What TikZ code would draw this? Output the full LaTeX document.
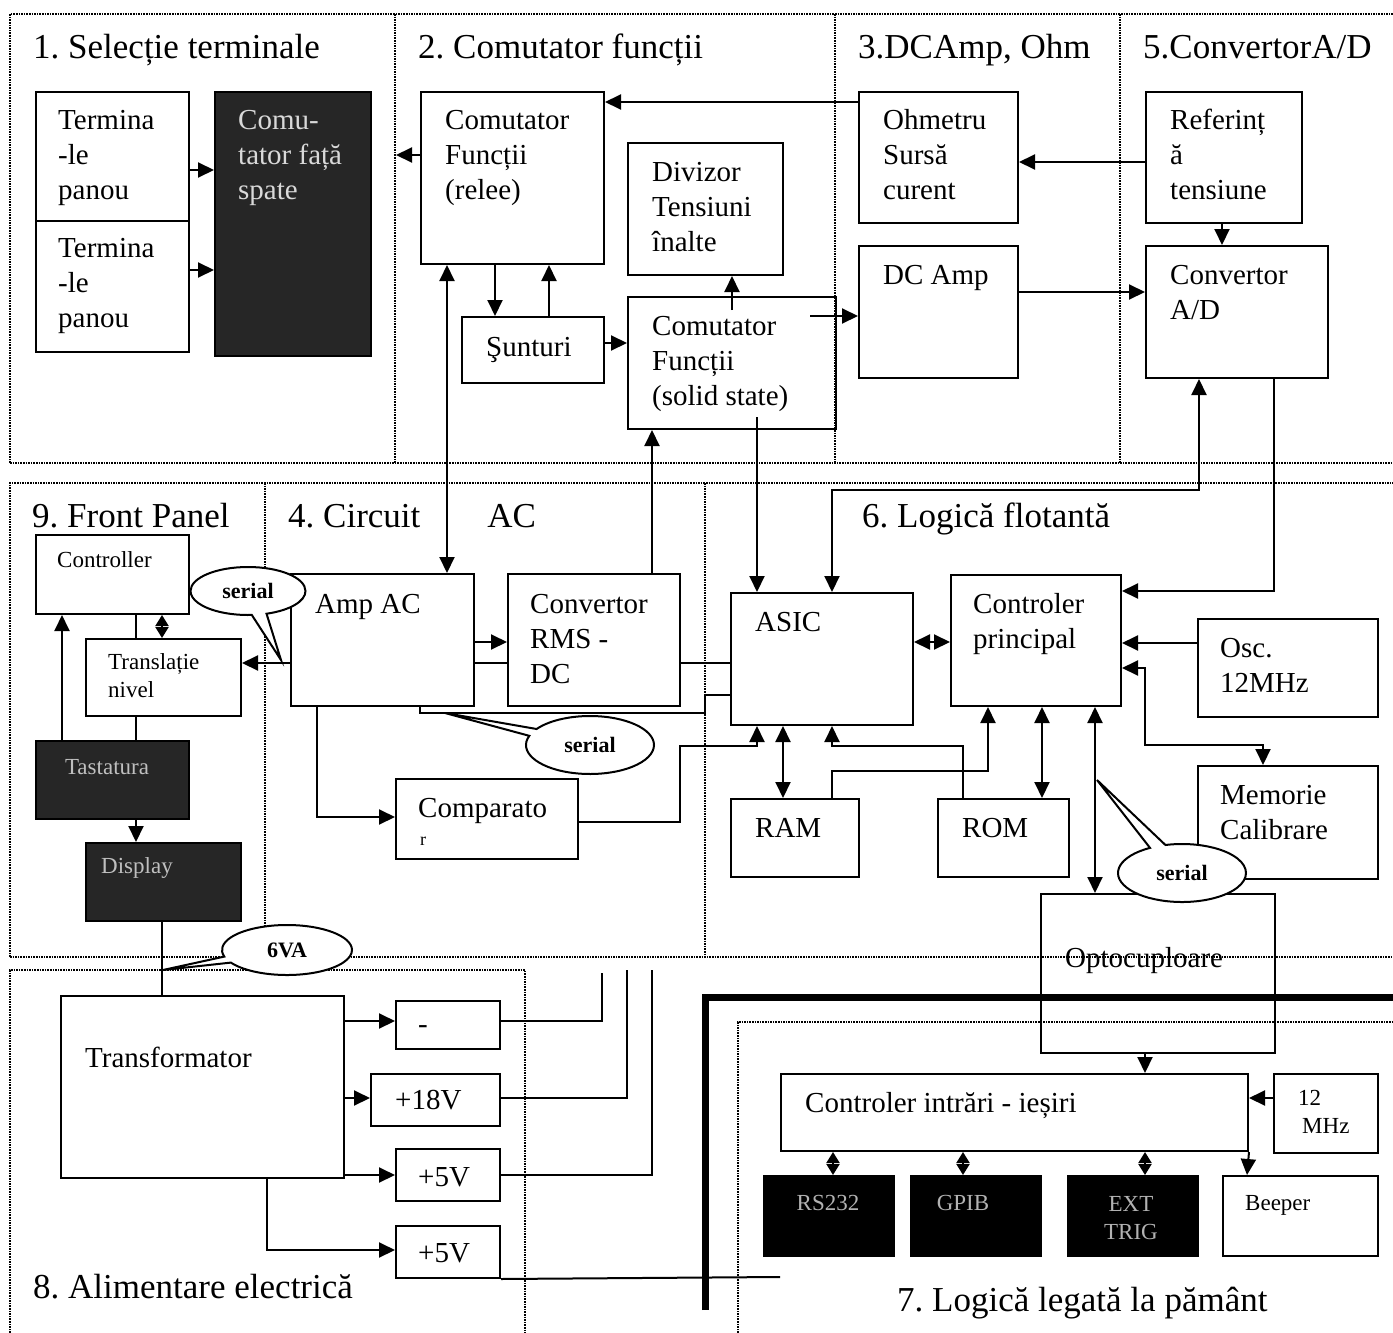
\documentclass[tikz,border=0pt]{standalone}
\usepackage{fontspec}
\setmainfont{Liberation Serif}
\usetikzlibrary{arrows.meta,shapes.callouts,calc}
\newcommand\Bx[6][box]{\node[#1, minimum width={#5-#3}, minimum height={#6-#4}] (#2) at (#3,#4) {};}
\frenchspacing
\begin{document}
\frenchspacing
\begin{tikzpicture}[x=1pt,y=-1pt,
  box/.style={draw, line width=2pt, inner sep=0pt, anchor=north west},
  dbox/.style={box, fill=black!85},
  kbox/.style={box, fill=black},
  tx/.style={anchor=north west, inner sep=0pt, align=left, font=\fontsize{29}{35}\selectfont},
  ts/.style={anchor=north west, inner sep=0pt, align=left, font=\fontsize{23}{28}\selectfont},
  th/.style={anchor=north west, inner sep=0pt, font=\fontsize{35}{42}\selectfont},
  region/.style={densely dotted, line width=1.6pt},
  ln/.style={line width=2pt},
  arr/.style={ln, -{Triangle[length=16pt,width=15pt]}},
  darr/.style={ln, {Triangle[length=16pt,width=15pt]}-{Triangle[length=16pt,width=15pt]}},
  sarr/.style={ln, {Triangle[length=11pt,width=13pt]}-{Triangle[length=11pt,width=13pt]}},
  call/.style={ellipse callout, draw, fill=white, line width=2pt, inner sep=0pt, font=\fontsize{22}{26}\selectfont\bfseries},
]
\useasboundingbox (0,0) rectangle (1393,1333);
\fill[white] (0,0) rectangle (1393,1333);
% ---------- regions
\draw[region] (10,463) -- (10,14) -- (1393,14);
\draw[region] (10,463) -- (1393,463);
\draw[region] (395,14) -- (395,463);
\draw[region] (835,14) -- (835,463);
\draw[region] (1120,14) -- (1120,463);
\draw[region] (10,957) -- (10,483) -- (1393,483);
\draw[region] (10,957) -- (1393,957);
\draw[region] (265,483) -- (265,957);
\draw[region] (705,483) -- (705,957);
\draw[region] (10,1333) -- (10,970) -- (525,970) -- (525,1333);
\draw[region] (738,1333) -- (738,1022) -- (1393,1022);
\draw[line width=7pt] (705,1310) -- (705,997) -- (1393,997);
% ---------- boxes
\Bx{term1}{35}{91}{188}{220}
\Bx{term2}{35}{220}{188}{351}
\Bx[dbox]{comu}{214}{91}{370}{355}
\Bx{relee}{420}{91}{603}{263}
\Bx{div}{627}{142}{782}{274}
\Bx{sunt}{461}{316}{603}{382}
\Bx{solid}{627}{296}{835}{428}
\Bx{ohm}{858}{91}{1017}{222}
\Bx{dcamp}{858}{245}{1017}{377}
\Bx{ref}{1145}{91}{1301}{222}
\Bx{adc}{1145}{245}{1327}{377}
\Bx{ctrlr}{35}{534}{188}{613}
\Bx{transl}{85}{638}{240}{715}
\Bx[dbox]{tast}{35}{740}{188}{818}
\Bx[dbox]{disp}{85}{842}{240}{920}
\Bx{ampac}{290}{573}{473}{705}
\Bx{rms}{507}{573}{679}{705}
\Bx{comp}{395}{778}{577}{858}
\Bx{asic}{730}{592}{912}{724}
\Bx{ctrl}{950}{574}{1120}{705}
\Bx{osc}{1197}{618}{1377}{716}
\Bx{mem}{1197}{765}{1377}{878}
\Bx{ram}{730}{798}{858}{876}
\Bx{rom}{937}{798}{1068}{876}
\Bx{opto}{1040}{893}{1274}{1052}
\Bx{trans}{60}{995}{343}{1177}
\Bx{minus}{395}{1000}{499}{1048}
\Bx{p18}{370}{1073}{499}{1125}
\Bx{p5a}{395}{1148}{499}{1200}
\Bx{p5b}{395}{1225}{499}{1277}
\Bx{io}{780}{1073}{1247}{1150}
\Bx{mhz}{1273}{1073}{1377}{1152}
\Bx[kbox]{rs}{763}{1175}{893}{1255}
\Bx[kbox]{gpib}{910}{1175}{1040}{1255}
\Bx[kbox]{ext}{1067}{1175}{1197}{1255}
\Bx{beep}{1222}{1175}{1377}{1255}
% ---------- texts
\node[tx] (t_term1) at (58,105) {\strut Termina\\-le\\panou};
\node[tx] (t_term2) at (58,233) {\strut Termina\\-le\\panou};
\node[tx, text=white!85!black] (t_comu) at (238,105) {\strut Comu-\\tator față\\spate};
\node[tx] (t_relee) at (445,105) {\strut Comutator\\Funcții\\(relee)};
\node[tx] (t_div) at (652,157) {\strut Divizor\\Tensiuni\\înalte};
\node[tx] (t_sunt) at (486,332) {\strut Şunturi};
\node[tx] (t_solid) at (652,311) {\strut Comutator\\Funcții\\(solid state)};
\node[tx] (t_ohm) at (883,105) {\strut Ohmetru\\Sursă\\curent};
\node[tx] (t_dc) at (883,260) {\strut DC Amp};
\node[tx] (t_ref) at (1170,105) {\strut Referinț\\ă\\tensiune};
\node[tx] (t_adc) at (1170,260) {\strut Convertor\\A/D};
\node[ts] (t_ctrlr) at (57,548) {\strut Controller};
\node[ts] (t_transl) at (108,650) {\strut Translație\\nivel};
\node[ts, anchor=center, text=white!75!black] (t_tast) at (107,767) {Tastatura};
\node[ts, anchor=center, text=white!75!black] (t_disp) at (137,868) {Display};
\node[tx] (t_amp) at (315,589) {\strut Amp AC};
\node[tx] (t_rms) at (530,589) {\strut Convertor\\RMS -\\DC};
\node[tx] (t_comp) at (418,793) {\strut Comparato};
\node[font=\fontsize{18}{20}\selectfont, inner sep=0pt] (t_r) at (423,841) {r};
\node[tx] (t_asic) at (755,607) {\strut ASIC};
\node[tx] (t_ctrl) at (973,589) {\strut Controler\\principal};
\node[tx] (t_osc) at (1220,633) {\strut Osc.\\12MHz};
\node[tx] (t_mem) at (1220,780) {\strut Memorie\\Calibrare};
\node[tx] (t_ram) at (755,813) {\strut RAM};
\node[tx] (t_rom) at (962,813) {\strut ROM};
\node[tx] (t_opto) at (1065,943) {\strut Optocuploare};
\node[tx] (t_trans) at (85,1043) {\strut Transformator};
\node[tx] (t_minus) at (418,1009) {\strut -};
\node[tx] (t_p18) at (395,1085) {\strut +18V};
\node[tx] (t_p5a) at (418,1162) {\strut +5V};
\node[tx] (t_p5b) at (418,1238) {\strut +5V};
\node[tx] (t_io) at (805,1088) {\strut Controler intrări - ieșiri};
\node[ts] (t_mhz) at (1298,1086) {\strut 12\\\hspace{4pt}MHz};
\node[ts, anchor=center, text=white!70!black] (t_rs) at (828,1203) {RS232};
\node[ts, anchor=center, text=white!70!black] (t_gpib) at (963,1203) {GPIB};
\node[ts, anchor=center, align=center, text=white!70!black] (t_ext) at (1131,1218) {EXT\\TRIG};
\node[ts] (t_beep) at (1245,1191) {\strut Beeper};
% ---------- headings
\node[th] (h1) at (33,29) {\strut 1. Selecție terminale};
\node[th] (h2) at (418,29) {\strut 2. Comutator funcții};
\node[th] (h3) at (858,29) {\strut 3.DCAmp, Ohm};
\node[th] (h5) at (1143,29) {\strut 5.ConvertorA/D};
\node[th] (h9) at (32,498) {\strut 9. Front Panel};
\node[th] (h4) at (288,498) {\strut 4. Circuit\hspace{67pt}AC};
\node[th] (h6) at (862,498) {\strut 6. Logică flotantă};
\node[th] (h8) at (33,1269) {\strut 8. Alimentare electrică};
\node[th] (h7) at (897,1282) {\strut 7. Logică legată la pământ};
% ---------- connectors
\coordinate (c_rl) at (396,155);
\draw[arr] (term1.east |- 0,170) -- (comu.west |- 0,170);
\draw[arr] (term2.east |- 0,270) -- (comu.west |- 0,270);
\draw[arr] (relee.west |- 0,155) -- (c_rl);
\draw[arr] (ohm.west |- 0,102) -- (relee.east |- 0,102);
\draw[arr] (ref.west |- 0,162) -- (ohm.east |- 0,162);
\draw[arr] (ref.south -| 1222,0) -- (adc.north -| 1222,0);
\draw[arr] (dcamp.east |- 0,292) -- (adc.west |- 0,292);
\draw[arr] (sunt.east |- 0,343) -- (solid.west |- 0,343);
\draw[arr] (relee.south -| 495,0) -- (sunt.north -| 495,0);
\draw[arr] (sunt.north -| 549,0) -- (relee.south -| 549,0);
\draw[arr] ($(solid.north -| 732,0)+(0,14)$) -- (div.south -| 732,0);
\draw[arr] ($(solid.east |- 0,316)+(-27,0)$) -- (dcamp.west |- 0,316);
\draw[darr] (relee.south -| 447,0) -- (ampac.north -| 447,0);
\draw[arr] (rms.north -| 652,0) -- (solid.south -| 652,0);
\draw[arr] ($(solid.south -| 757,0)+(0,-13)$) -- (asic.north -| 757,0);
\draw[darr] (adc.south -| 1199,0) -- (1199,490) -| (asic.north -| 832,0);
\draw[arr] (adc.south -| 1274,0) |- (ctrl.east |- 0,591);
\draw[darr] (asic.east |- 0,642) -- (ctrl.west |- 0,642);
\draw[arr] (osc.west |- 0,643) -- (ctrl.east |- 0,643);
\draw[darr] (ctrl.east |- 0,668) -- (1145,668) |- (1263,745) -- (mem.north -| 1263,0);
\draw[darr] (ram.north -| 783,0) -- (asic.south -| 783,0);
\draw[arr] (rom.north -| 963,0) |- (832,746) -- (asic.south -| 832,0);
\draw[arr] (comp.east |- 0,822) -- (680,822) |- (757,746) -- (asic.south -| 757,0);
\draw[arr] (ram.north -| 832,0) |- (988,771) -- (ctrl.south -| 988,0);
\draw[darr] (rom.north -| 1042,0) -- (ctrl.south -| 1042,0);
\draw[darr] (opto.north -| 1095,0) -- (ctrl.south -| 1095,0);
\draw[arr] (opto.south -| 1145,0) -- (io.north -| 1145,0);
\draw[arr] (mhz.west |- 0,1098) -- (io.east |- 0,1098);
\draw[arr] (io.south east) -- (beep.north -| 1247,0);
\draw[sarr] (io.south -| 833,0) -- (rs.north -| 833,0);
\draw[sarr] (io.south -| 963,0) -- (gpib.north -| 963,0);
\draw[sarr] (io.south -| 1145,0) -- (ext.north -| 1145,0);
\draw[arr] (ampac.west |- 0,663) -- (transl.east |- 0,663);
\draw[arr] (ampac.east |- 0,642) -- (rms.west |- 0,642);
\draw[ln] (ampac.east |- 0,663) -- (rms.west |- 0,663);
\draw[ln] (rms.east |- 0,663) -- (asic.west |- 0,663);
\draw[ln] (ampac.south -| 420,0) -- (420,713) -- (705,713) -- (705,695) -- (asic.west |- 0,695);
\draw[arr] (ampac.south -| 317,0) |- (comp.west |- 0,817);
\draw[arr] (tast.north -| 62,0) -- (ctrlr.south -| 62,0);
\draw[ln] (ctrlr.south -| 136,0) -- (transl.north -| 136,0);
\draw[sarr] (ctrlr.south -| 162,0) -- (transl.north -| 162,0);
\draw[ln] (transl.south -| 136,0) -- (tast.north -| 136,0);
\draw[arr] (tast.south -| 136,0) -- (disp.north -| 136,0);
\draw[ln] (disp.south -| 162,0) -- (trans.north -| 162,0);
\draw[arr] (trans.east |- 0,1021) -- (minus.west |- 0,1021);
\draw[arr] (trans.east |- 0,1098) -- (p18.west |- 0,1098);
\draw[arr] (trans.east |- 0,1175) -- (p5a.west |- 0,1175);
\draw[arr] (trans.south -| 267,0) |- (p5b.west |- 0,1250);
\coordinate (e1) at (602,973);
\coordinate (e2) at (627,970);
\coordinate (e3) at (652,970);
\coordinate (e4) at (780,1277);
\draw[ln] (minus.east |- 0,1021) -| (e1);
\draw[ln] (p18.east |- 0,1098) -| (e2);
\draw[ln] (p5a.east |- 0,1175) -| (e3);
\draw[ln] (p5b.south east) -- (e4);
% ---------- callouts
\node[call, minimum width=115pt, minimum height=48pt, callout absolute pointer={(281,660)}] (s1) at (248,591) {serial};
\node[call, minimum width=128pt, minimum height=58pt, callout absolute pointer={(445,713)}] (s2) at (590,745) {serial};
\node[call, minimum width=128pt, minimum height=58pt, callout absolute pointer={(1097,780)}] (s3) at (1182,873) {serial};
\node[call, minimum width=130pt, minimum height=50pt, callout absolute pointer={(163,970)}] (s4) at (287,950) {6VA};
\end{tikzpicture}
\end{document}
